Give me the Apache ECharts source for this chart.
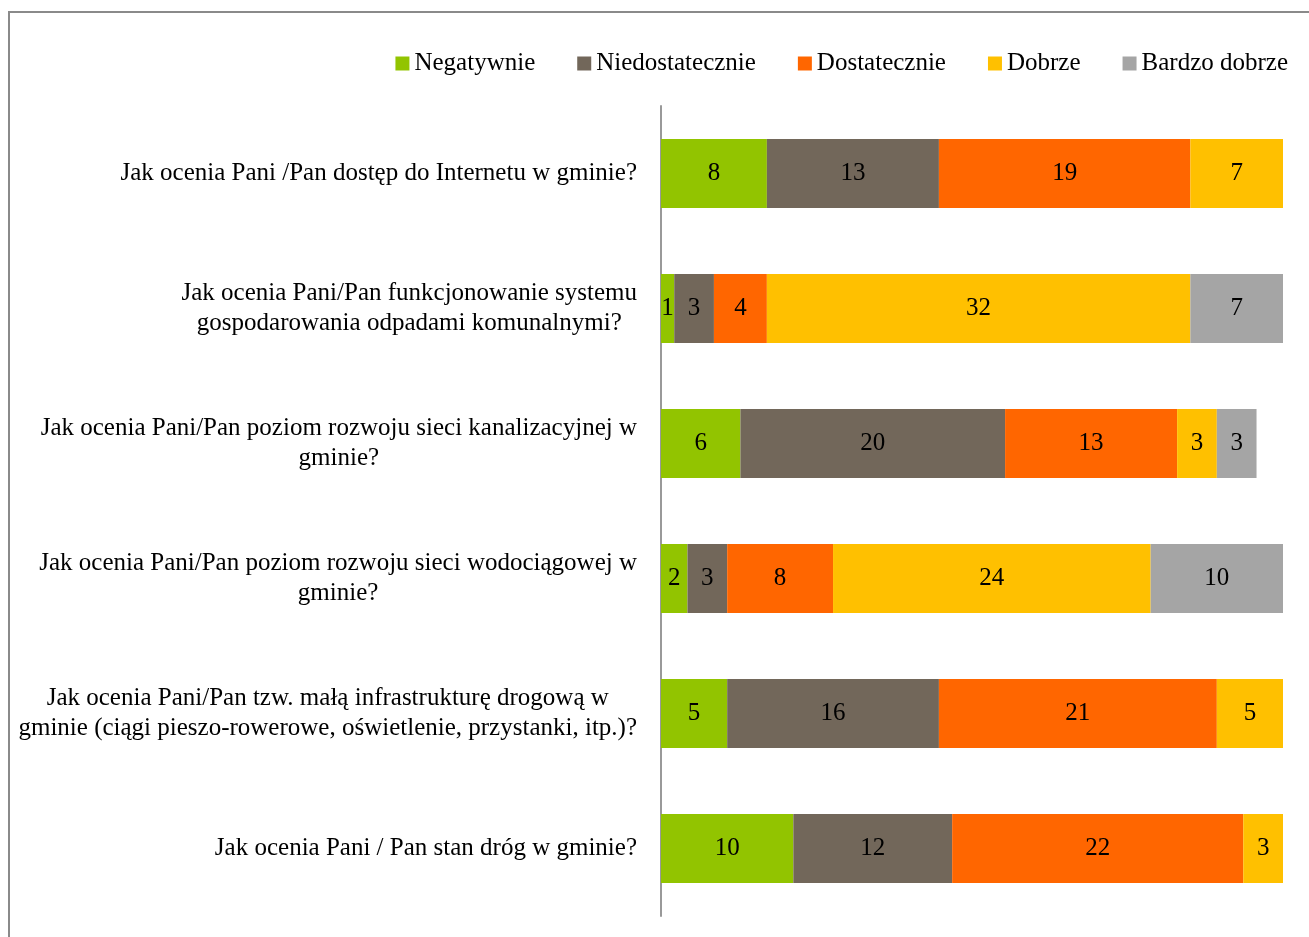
<!DOCTYPE html>
<html>
<head>
<meta charset="utf-8">
<script src="https://cdn.jsdelivr.net/npm/echarts@6/dist/echarts.min.js"></script>
<style>
  html, body { margin: 0; padding: 0; background: #ffffff; }
  #chart { width: 1309px; height: 937px; }
</style>
</head>
<body>
<div id="chart"></div>
<script>
// Survey questions, top to bottom
const questions = [
  'Jak ocenia Pani /Pan dostęp do Internetu w gminie?',
  'Jak ocenia Pani/Pan funkcjonowanie systemu\ngospodarowania odpadami komunalnymi?',
  'Jak ocenia Pani/Pan poziom rozwoju sieci kanalizacyjnej w\ngminie?',
  'Jak ocenia Pani/Pan poziom rozwoju sieci wodociągowej w\ngminie?',
  'Jak ocenia Pani/Pan tzw. małą infrastrukturę drogową w\ngminie (ciągi pieszo-rowerowe, oświetlenie, przystanki, itp.)?',
  'Jak ocenia Pani / Pan stan dróg w gminie?'
];

const ratingNames = ['Negatywnie', 'Niedostatecznie', 'Dostatecznie', 'Dobrze', 'Bardzo dobrze'];

// Answer counts per question (same order as questions)
const negatywnie      = [8, 1, 6, 2, 5, 10];
const niedostatecznie = [13, 3, 20, 3, 16, 12];
const dostatecznie    = [19, 4, 13, 8, 21, 22];
const dobrze          = [7, 32, 3, 24, 5, 3];
const bardzoDobrze    = [0, 7, 3, 10, 0, 0];

const seriesValues = [negatywnie, niedostatecznie, dostatecznie, dobrze, bardzoDobrze];
const colors = ['#92c400', '#72675a', '#ff6600', '#ffc000', '#a5a5a5'];

const FONT = '"Liberation Serif", "DejaVu Serif", serif';
const FONT_SIZE = 25;

const chart = echarts.init(document.getElementById('chart'));

chart.setOption({
  backgroundColor: '#ffffff',
  animation: false,
  color: colors,
  graphic: [{
    type: 'rect',
    shape: { x: 9, y: 12, width: 1400, height: 1000 },
    style: { fill: 'none', stroke: '#8a8a8a', lineWidth: 2 },
    silent: true
  }],
  legend: {
    data: ratingNames,
    right: 16,
    top: 46,
    itemWidth: 14,
    itemHeight: 14,
    itemGap: 42,
    icon: 'rect',
    textStyle: { fontFamily: FONT, fontSize: FONT_SIZE, color: '#000000' }
  },
  grid: { left: 661, right: 26, top: 106, bottom: 21, containLabel: false },
  xAxis: {
    type: 'value',
    min: 0,
    max: 47,
    show: false
  },
  yAxis: {
    type: 'category',
    inverse: true,
    data: questions,
    axisLine: { show: true, lineStyle: { color: '#999999', width: 2 } },
    axisTick: { show: false },
    axisLabel: {
      margin: 24,
      // each wrapped line is centred within the label block
      formatter: function (v) {
        return v.split('\n').map(function (l) { return '{c|' + l + '}'; }).join('\n');
      },
      rich: {
        c: { align: 'center', fontFamily: FONT, fontSize: FONT_SIZE, color: '#000000', lineHeight: 30 }
      }
    }
  },
  series: seriesValues.map(function (vals, i) {
    return {
      name: ratingNames[i],
      type: 'bar',
      stack: 'all',
      barWidth: 69,
      data: vals,
      itemStyle: { color: colors[i] },
      label: {
        show: true,
        position: 'inside',
        fontFamily: FONT,
        fontSize: FONT_SIZE,
        color: '#000000',
        formatter: function (p) { return p.value ? String(p.value) : ''; }
      }
    };
  })
});
</script>
</body>
</html>
